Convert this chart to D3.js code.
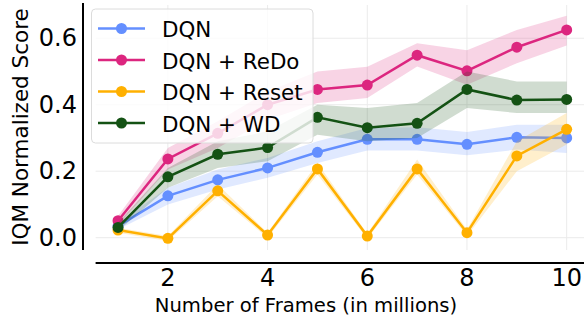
<!DOCTYPE html>
<html lang="en">
<head>
  <meta charset="UTF-8">
  <title>IQM Normalized Score vs Frames</title>
  <script src="https://d3js.org/d3.v7.min.js"></script>
  <style>
    html, body { margin: 0; padding: 0; background: #fff; overflow: hidden; }
    svg { display: block; font-family: "DejaVu Sans", sans-serif; }
    .grid line { stroke: #ebebeb; stroke-width: 1; }
    .spine { stroke: #000; stroke-width: 2; }
  </style>
</head>
<body>
  <svg id="chart" width="584" height="320"></svg>
  <script>
  // data
  const frames = [1, 2, 3, 4, 5, 6, 7, 8, 9, 10];

  const dqn   = [0.035, 0.126, 0.174, 0.210, 0.257, 0.296, 0.296, 0.281, 0.302, 0.300];
  const dqnLo = [0.025, 0.100, 0.145, 0.180, 0.225, 0.262, 0.262, 0.248, 0.265, 0.255];
  const dqnHi = [0.045, 0.150, 0.205, 0.240, 0.290, 0.330, 0.332, 0.318, 0.340, 0.340];

  const redo   = [0.051, 0.237, 0.314, 0.400, 0.446, 0.459, 0.549, 0.502, 0.573, 0.625];
  const redoLo = [0.038, 0.205, 0.270, 0.355, 0.405, 0.420, 0.515, 0.460, 0.525, 0.578];
  const redoHi = [0.065, 0.270, 0.350, 0.440, 0.500, 0.514, 0.585, 0.564, 0.625, 0.668];

  const reset   = [0.023, -0.002, 0.141, 0.008, 0.207, 0.005, 0.207, 0.015, 0.246, 0.326];
  const resetLo = [0.015, -0.010, 0.125, 0.000, 0.190, -0.003, 0.190, 0.005, 0.200, 0.280];
  const resetHi = [0.030, 0.005, 0.160, 0.015, 0.225, 0.012, 0.235, 0.025, 0.290, 0.375];

  const wd   = [0.031, 0.183, 0.251, 0.271, 0.362, 0.331, 0.344, 0.446, 0.414, 0.416];
  const wdLo = [0.020, 0.150, 0.210, 0.230, 0.310, 0.290, 0.300, 0.390, 0.375, 0.375];
  const wdHi = [0.045, 0.210, 0.290, 0.320, 0.400, 0.390, 0.405, 0.500, 0.470, 0.470];

  const seriesNames = ["DQN", "DQN + ReDo", "DQN + Reset", "DQN + WD"];
  const seriesColors = ["#648FFF", "#DC267F", "#FFB000", "#145214"];

  const xTicks = [2, 4, 6, 8, 10];
  const yTicks = [0.0, 0.2, 0.4, 0.6];

  const series = [
    { name: seriesNames[0], color: seriesColors[0], mean: dqn, lo: dqnLo, hi: dqnHi },
    { name: seriesNames[1], color: seriesColors[1], mean: redo, lo: redoLo, hi: redoHi },
    { name: seriesNames[2], color: seriesColors[2], mean: reset, lo: resetLo, hi: resetHi },
    { name: seriesNames[3], color: seriesColors[3], mean: wd, lo: wdLo, hi: wdHi }
  ];

  const svg = d3.select("#chart");

  // plot area
  const x = d3.scaleLinear().domain([0.55, 10.45]).range([95.6, 589.1]);
  const y = d3.scaleLinear().domain([-0.037, 0.70]).range([250, 5]);

  // grid
  const grid = svg.append("g").attr("class", "grid");
  grid.selectAll(".gx").data(xTicks).join("line")
    .attr("x1", d => x(d)).attr("x2", d => x(d))
    .attr("y1", y.range()[0]).attr("y2", y.range()[1]);
  grid.selectAll(".gy").data(yTicks).join("line")
    .attr("x1", x.range()[0]).attr("x2", x.range()[1])
    .attr("y1", d => y(d)).attr("y2", d => y(d));

  // spines (offset like seaborn despine)
  svg.append("line").attr("class", "spine")
    .attr("x1", 83).attr("x2", 83)
    .attr("y1", y.range()[1] - 2).attr("y2", y.range()[0]);
  svg.append("line").attr("class", "spine")
    .attr("x1", x.range()[0]).attr("x2", 584)
    .attr("y1", 263).attr("y2", 263);

  // tick labels
  svg.selectAll(".ytl").data(yTicks).join("text")
    .attr("x", 77).attr("y", d => y(d))
    .attr("text-anchor", "end").attr("dominant-baseline", "central")
    .attr("font-size", 24)
    .text(d => d3.format(".1f")(d));

  svg.selectAll(".xtl").data(xTicks).join("text")
    .attr("x", d => x(d)).attr("y", 286)
    .attr("text-anchor", "middle")
    .attr("font-size", 24)
    .text(d => d);

  // axis labels
  svg.append("text")
    .attr("x", 306).attr("y", 312)
    .attr("text-anchor", "middle").attr("font-size", 19.6)
    .text("Number of Frames (in millions)");
  svg.append("text")
    .attr("transform", "translate(28,127) rotate(-90)")
    .attr("text-anchor", "middle").attr("font-size", 21.5)
    .text("IQM Normalized Score");

  // bands, lines, markers
  const area = d3.area()
    .x((d, i) => x(frames[i]))
    .y0(d => y(d[0]))
    .y1(d => y(d[1]));
  const line = d3.line()
    .x((d, i) => x(frames[i]))
    .y(d => y(d));

  series.forEach(s => {
    const g = svg.append("g");
    g.append("path")
      .datum(s.lo.map((v, i) => [v, s.hi[i]]))
      .attr("d", area)
      .attr("fill", s.color).attr("fill-opacity", 0.2);
    g.append("path")
      .datum(s.mean)
      .attr("d", line)
      .attr("fill", "none").attr("stroke", s.color).attr("stroke-width", 2.5);
    g.selectAll("circle").data(s.mean).join("circle")
      .attr("cx", (d, i) => x(frames[i]))
      .attr("cy", d => y(d))
      .attr("r", 5.5)
      .attr("fill", s.color);
  });

  // legend
  const legend = svg.append("g");
  legend.append("rect")
    .attr("x", 91.5).attr("y", 9).attr("width", 221.5).attr("height", 134)
    .attr("rx", 4)
    .attr("fill", "#fff").attr("fill-opacity", 0.8)
    .attr("stroke", "#dcdcdc").attr("stroke-width", 1);
  series.forEach((s, i) => {
    const ly = 28.5 + i * 31.5;
    legend.append("line")
      .attr("x1", 98).attr("x2", 145).attr("y1", ly).attr("y2", ly)
      .attr("stroke", s.color).attr("stroke-width", 2.5);
    legend.append("circle")
      .attr("cx", 121.5).attr("cy", ly).attr("r", 5.5).attr("fill", s.color);
    legend.append("text")
      .attr("x", 162).attr("y", ly + 1)
      .attr("dominant-baseline", "central")
      .attr("font-size", 21.4)
      .text(s.name);
  });
  </script>
</body>
</html>
